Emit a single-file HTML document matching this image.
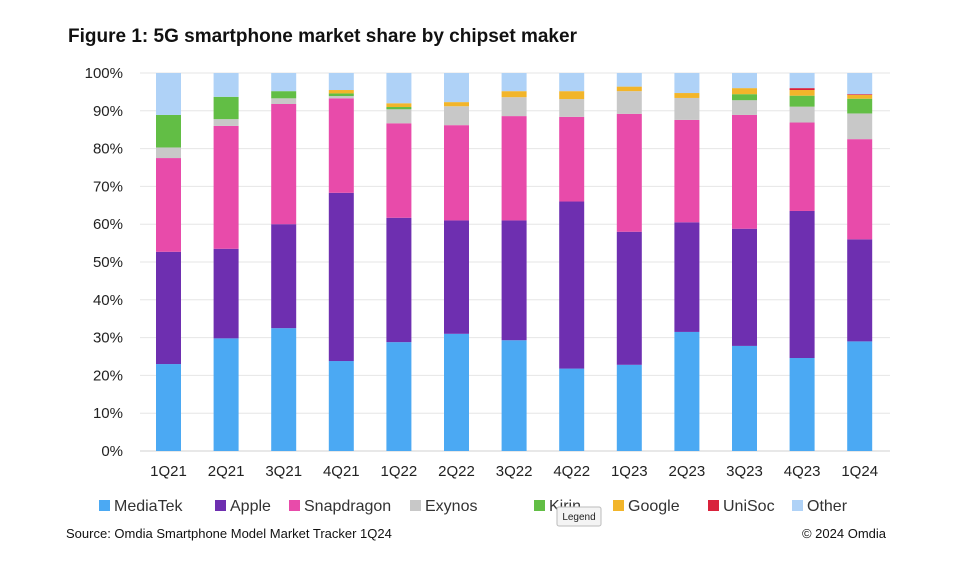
<!DOCTYPE html>
<html><head><meta charset="utf-8"><style>
body{margin:0;background:#fff;font-family:"Liberation Sans",sans-serif;}
svg text{font-family:"Liberation Sans",sans-serif;}
</style></head><body>
<svg id="chart" width="953" height="566" xmlns="http://www.w3.org/2000/svg">
<text x="68" y="42" font-size="19" font-weight="bold" fill="#111">Figure 1: 5G smartphone market share by chipset maker</text>
<g id="grid"></g><g id="bars"></g><g id="xlabels"></g><g id="legend"></g>
<text x="66" y="538" font-size="13" fill="#111">Source: Omdia Smartphone Model Market Tracker 1Q24</text>
<text x="886" y="538" font-size="13" fill="#111" text-anchor="end">© 2024 Omdia</text>
<g><rect x="557" y="507" width="44" height="19" fill="#f4f4f4" stroke="#bbb" rx="2"/><text x="579" y="520" font-size="10" text-anchor="middle" fill="#222">Legend</text></g>
</svg>
<script>
const categories=["1Q21","2Q21","3Q21","4Q21","1Q22","2Q22","3Q22","4Q22","1Q23","2Q23","3Q23","4Q23","1Q24"];
const seriesNames=["MediaTek","Apple","Snapdragon","Exynos","Kirin","Google","UniSoc","Other"];
const seriesColors=["#4BA9F3","#6E2FB0","#E84BAA","#C8C8C8","#62BE45","#F2B52A","#D9223B","#AFD2F7"];
const mediatek=[23,29.8,32.5,23.8,28.8,31,29.3,21.8,22.8,31.5,27.8,24.6,29];
const apple=[29.7,23.7,27.5,44.5,32.9,30,31.7,44.2,35.2,29,31,38.9,27];
const snapdragon=[24.8,32.5,31.8,25,25,25.2,27.6,22.4,31.2,27.1,30.1,23.4,26.5];
const exynos=[2.8,1.8,1.5,0.6,3.7,5,5,4.7,6,5.8,3.9,4.2,6.8];
const kirin=[8.6,5.9,1.9,0.7,0.6,0,0,0,0,0,1.6,2.9,3.9];
const google=[0,0,0,0.9,1,1.1,1.6,2.1,1.2,1.3,1.6,1.5,1];
const unisoc=[0,0,0,0,0,0,0,0,0,0,0,0.5,0.2];
const other=[11.1,6.3,4.8,4.5,8,7.7,4.8,4.8,3.6,5.3,4,4,5.6];
const yTicks=[0,10,20,30,40,50,60,70,80,90,100];
const series=[mediatek,apple,snapdragon,exynos,kirin,google,unisoc,other];
const NS="http://www.w3.org/2000/svg";
const y=v=>451-v*3.78;
const x=i=>168.5+i*57.6;
function mk(tag,attrs,parent){const e=document.createElementNS(NS,tag);for(const k in attrs)e.setAttribute(k,attrs[k]);parent.appendChild(e);return e;}
const grid=document.getElementById('grid');
yTicks.forEach(t=>{
 const l=mk('line',{x1:140,x2:890,y1:y(t),y2:y(t),stroke:t===0?'#d0d0d0':'#e6e6e6','stroke-width':1},grid);
 
 
 const tx=mk('text',{x:123,y:y(t)+5,'font-size':15,'text-anchor':'end',fill:'#222'},grid);
 tx.textContent=t+'%';
 
 
});
const bars=document.getElementById('bars');
categories.forEach((c,i)=>{
 let cum=0;
 series.forEach((s,k)=>{
  const v=s[i];
  if(v>0){
   const r=mk('rect',{x:x(i)-12.5,y:y(cum+v),width:25,height:v*3.78,fill:seriesColors[k]},bars);
   
   
  }
  cum+=v;
 });
 const t=mk('text',{x:x(i),y:476,'font-size':15,'text-anchor':'middle',fill:'#222'},document.getElementById('xlabels'));
 t.textContent=c;
 
 
});
const legX=[99,215,289,410,534,613,708,792];
const lg=document.getElementById('legend');
seriesNames.forEach((n,k)=>{
 const g=mk('g',{},lg);
 
 
 mk('rect',{x:legX[k],y:500,width:11,height:11,fill:seriesColors[k]},g);
 const t=mk('text',{x:legX[k]+15,y:511,'font-size':16,fill:'#333'},g);
 t.textContent=n;
});
</script>
</body></html>
